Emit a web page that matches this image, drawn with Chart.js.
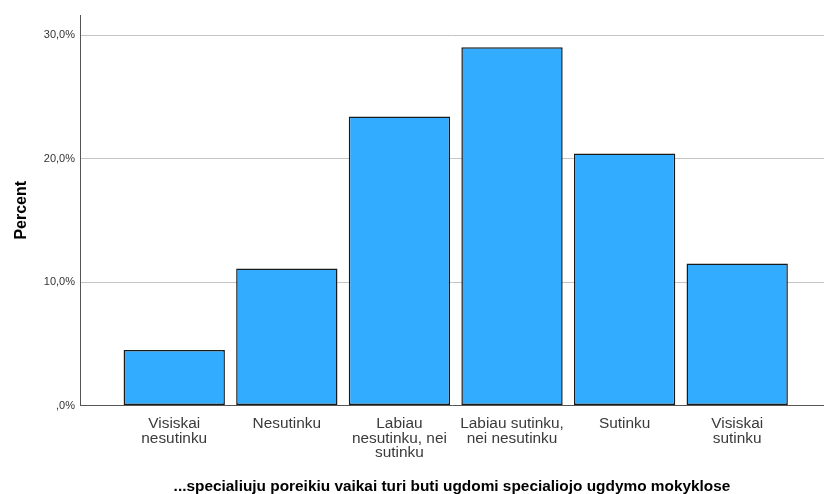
<!DOCTYPE html>
<html>
<head>
<meta charset="utf-8">
<script src="https://cdn.jsdelivr.net/npm/chart.js@4"></script>
<style>
  html, body { margin: 0; padding: 0; background: #ffffff; }
  #wrap { width: 824px; height: 494px; }
</style>
</head>
<body>
<div id="wrap"><canvas id="chart" width="824" height="494"></canvas></div>
<script>
// categories split into the lines shown under each bar
const categories = [
    ['Visiskai', 'nesutinku'],
    ['Nesutinku'],
    ['Labiau', 'nesutinku, nei', 'sutinku'],
    ['Labiau sutinku,', 'nei nesutinku'],
    ['Sutinku'],
    ['Visiskai', 'sutinku']
];
const percents = [4.5, 11.1, 23.4, 29.0, 20.4, 11.5];
const yTicks = [0, 10, 20, 30];

const xTitle = '...specialiuju poreikiu vaikai turi buti ugdomi specialiojo ugdymo mokyklose';
const yTitle = 'Percent';

const fmtPct = v => v === 0 ? ',0%' : v.toFixed(1).replace('.', ',') + '%';

const ctx = document.getElementById('chart');

new Chart(ctx, {
    type: 'bar',
    data: {
        datasets: [{
            data: percents.map((p, i) => ({ x: i, y: p })),
            backgroundColor: '#31acff',
            borderColor: '#1a1a1a',
            borderWidth: 1.5,
            borderSkipped: false,
            barPercentage: 0.9,
            categoryPercentage: 1.0
        }]
    },
    options: {
        responsive: false,
        animation: false,
        layout: { padding: { top: 15, right: 0, left: 0, bottom: 0 } },
        plugins: {
            legend: { display: false },
            tooltip: { enabled: false }
        },
        scales: {
            x: {
                type: 'linear',
                offset: false,
                min: -0.837,
                max: 5.771,
                afterBuildTicks: scale => {
                    scale.ticks = categories.map((c, i) => ({ value: i }));
                },
                afterFit: scale => { scale.height = 88.5; },
                grid: { display: false, drawTicks: false },
                border: { display: true, color: '#555555', width: 1 },
                ticks: {
                    autoSkip: false,
                    maxRotation: 0,
                    padding: 11,
                    color: '#3a3a3a',
                    font: { family: 'Liberation Sans, Arial, sans-serif', size: 15.4, lineHeight: '14.5px' },
                    callback: v => categories[v] || ''
                },
                title: {
                    display: true,
                    text: xTitle,
                    color: '#000000',
                    font: { family: 'Liberation Sans, Arial, sans-serif', size: 15.4, weight: 'bold' },
                    padding: { top: 0, bottom: -2 }
                }
            },
            y: {
                min: 0,
                max: 31.62,
                afterBuildTicks: scale => {
                    scale.ticks = yTicks.map(v => ({ value: v }));
                },
                afterFit: scale => { scale.width = 80; },
                grid: {
                    color: ctx => ctx.tick && ctx.tick.value === 0 ? 'rgba(0,0,0,0)' : '#c4c4c4',
                    lineWidth: 1,
                    drawTicks: false
                },
                border: { display: true, color: '#555555', width: 1 },
                ticks: {
                    padding: 5,
                    color: '#333333',
                    font: { family: 'Liberation Sans, Arial, sans-serif', size: 11 },
                    callback: v => fmtPct(v)
                },
                title: {
                    display: true,
                    text: yTitle,
                    color: '#000000',
                    font: { family: 'Liberation Sans, Arial, sans-serif', size: 16, weight: 'bold' },
                    padding: { top: 12, bottom: 0 }
                }
            }
        }
    }
});
</script>
</body>
</html>
